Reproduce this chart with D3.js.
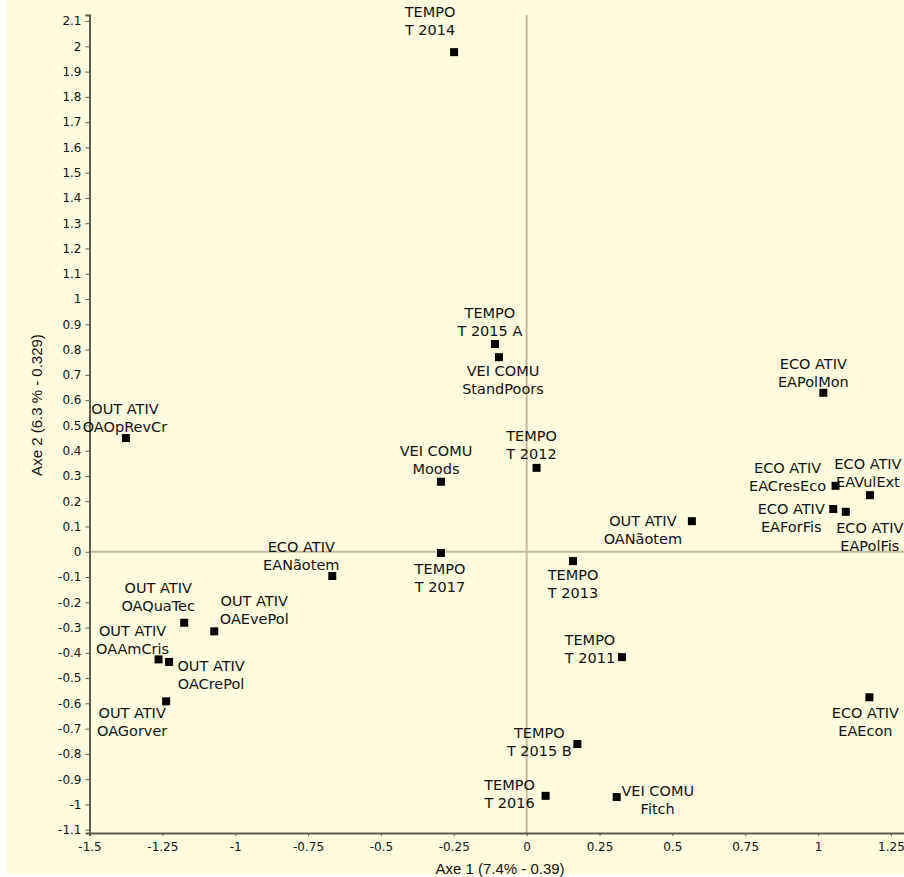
<!DOCTYPE html>
<html>
<head>
<meta charset="utf-8">
<script src="https://cdn.jsdelivr.net/npm/d3@7"></script>
<style>
  body { margin: 0; background: #fff; }
  .tick text { font-family: "DejaVu Sans", sans-serif; font-size: 12px; fill: #111; }
  .label { font-family: "DejaVu Sans", sans-serif; font-size: 14.5px; fill: #111; }
  .title { font-family: "Liberation Sans Narrow", "Liberation Sans", sans-serif; font-size: 15px; fill: #111; }
</style>
</head>
<body>
<div id="chart"></div>
<script>
// correspondence map, axes 1 and 2
const groups = ["TEMPO", "TEMPO", "VEI COMU", "TEMPO", "VEI COMU", "TEMPO", "TEMPO", "OUT ATIV",
  "ECO ATIV", "ECO ATIV", "ECO ATIV", "ECO ATIV", "ECO ATIV", "ECO ATIV", "TEMPO", "TEMPO",
  "TEMPO", "VEI COMU", "ECO ATIV", "OUT ATIV", "OUT ATIV", "OUT ATIV", "OUT ATIV", "OUT ATIV", "OUT ATIV"];
const names = ["T 2014", "T 2015 A", "StandPoors", "T 2012", "Moods", "T 2017", "T 2013", "OANãotem",
  "EAPolMon", "EACresEco", "EAVulExt", "EAForFis", "EAPolFis", "EAEcon", "T 2011", "T 2015 B",
  "T 2016", "Fitch", "EANãotem", "OAQuaTec", "OAEvePol", "OAAmCris", "OACrePol", "OAGorver", "OAOpRevCr"];
const axe1 = [-0.249, -0.109, -0.095, 0.034, -0.294, -0.294, 0.159, 0.567,
  1.018, 1.060, 1.178, 1.052, 1.095, 1.176, 0.327, 0.174,
  0.065, 0.309, -0.667, -1.175, -1.072, -1.263, -1.227, -1.237, -1.375];
const axe2 = [1.977, 0.822, 0.770, 0.332, 0.277, -0.005, -0.037, 0.121,
  0.629, 0.261, 0.224, 0.169, 0.158, -0.576, -0.417, -0.761,
  -0.966, -0.971, -0.096, -0.281, -0.315, -0.426, -0.436, -0.592, 0.450];

const xTicks = [-1.5, -1.25, -1, -0.75, -0.5, -0.25, 0, 0.25, 0.5, 0.75, 1, 1.25];
const yTicks = [2.1, 2, 1.9, 1.8, 1.7, 1.6, 1.5, 1.4, 1.3, 1.2, 1.1, 1, 0.9, 0.8, 0.7, 0.6, 0.5,
  0.4, 0.3, 0.2, 0.1, 0, -0.1, -0.2, -0.3, -0.4, -0.5, -0.6, -0.7, -0.8, -0.9, -1, -1.1];

// label placement (px offset of the first line centre from the point)
const labelOffset = [[-24, -40], [-5, -31], [4, 14], [-5, -32], [-5, -31], [-1, 16], [0, 14], [-49, 0],
  [-10, -29], [-48, -18], [-2, -31], [-42, 0], [24, 16], [-4, 16], [-32, -17], [-38, -11],
  [-36, -11], [41, -6], [-31, -29], [-26, -35], [40, -30], [-26, -28], [42, 4], [-34, 12], [-1, -29]];

let data = names.map((n, i) => ({ group: groups[i], name: n, x: axe1[i], y: axe2[i], off: labelOffset[i] }));

let width = 904, height = 877;

let svg = d3.select("#chart").append("svg")
  .attr("width", width)
  .attr("height", height);

svg.append("rect")
  .attr("x", 7).attr("y", 0)
  .attr("width", width - 7).attr("height", height - 2)
  .attr("fill", "#fffcdf");

let xscale = d3.scaleLinear().domain([-1.5, 1.3]).range([89.5, 905.5]);
let yscale = d3.scaleLinear().domain([2.124, -1.113]).range([15, 833]);

// zero lines
svg.append("line")
  .attr("x1", xscale(0)).attr("x2", xscale(0))
  .attr("y1", yscale.range()[0]).attr("y2", yscale.range()[1])
  .attr("stroke", "#c9b99b").attr("stroke-width", 2);
svg.append("line")
  .attr("x1", xscale.range()[0]).attr("x2", width)
  .attr("y1", yscale(0)).attr("y2", yscale(0))
  .attr("stroke", "#c9b99b").attr("stroke-width", 2);

let xAxis = d3.axisBottom(xscale).tickValues(xTicks).tickSize(3).tickPadding(6)
  .tickFormat(d => String(d));
let yAxis = d3.axisLeft(yscale).tickValues(yTicks).tickSize(4).tickPadding(4)
  .tickFormat(d => String(d));

let gx = svg.append("g")
  .attr("transform", "translate(0," + yscale.range()[1] + ")")
  .call(xAxis);
let gy = svg.append("g")
  .attr("transform", "translate(" + xscale.range()[0] + ",0)")
  .call(yAxis);

[gx, gy].forEach(g => {
  g.select(".domain").attr("stroke", "#5e5a4c").attr("stroke-width", 2);
  g.selectAll(".tick line").attr("stroke", "#5e5a4c");
});

// points
svg.selectAll("rect.pt")
  .data(data)
  .enter().append("rect")
  .attr("class", "pt")
  .attr("x", d => xscale(d.x) - 4)
  .attr("y", d => yscale(d.y) - 4)
  .attr("width", 8)
  .attr("height", 8)
  .attr("fill", "#000");

let lab = svg.selectAll("g.lab")
  .data(data)
  .enter().append("g")
  .attr("class", "lab")
  .attr("transform", d => "translate(" + (xscale(d.x) + d.off[0]) + "," + (yscale(d.y) + d.off[1]) + ")");

lab.append("text")
  .attr("class", "label")
  .attr("text-anchor", "middle")
  .attr("dominant-baseline", "central")
  .text(d => d.group);

lab.append("text")
  .attr("class", "label")
  .attr("text-anchor", "middle")
  .attr("dominant-baseline", "central")
  .attr("y", 18)
  .text(d => d.name);

svg.append("text")
  .attr("class", "title")
  .attr("x", 500)
  .attr("y", 868)
  .attr("text-anchor", "middle")
  .attr("dominant-baseline", "central")
  .text("Axe 1 (7.4% - 0.39)");

svg.append("text")
  .attr("class", "title")
  .attr("transform", "translate(36,405) rotate(-90)")
  .attr("text-anchor", "middle")
  .attr("dominant-baseline", "central")
  .text("Axe 2 (6.3 % - 0.329)");
</script>
</body>
</html>
